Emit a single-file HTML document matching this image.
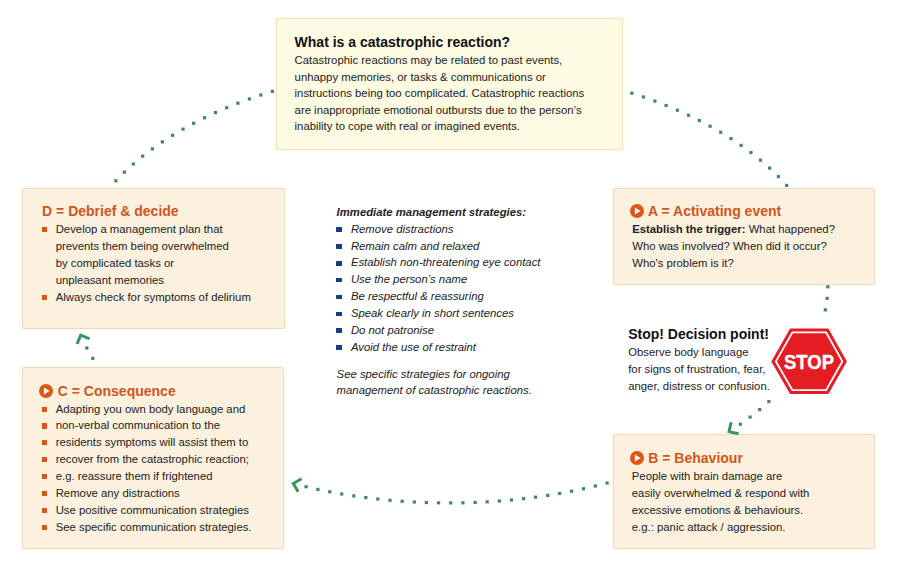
<!DOCTYPE html>
<html><head><meta charset="utf-8"><style>
html,body{margin:0;padding:0;background:#fff;}
body{width:898px;height:574px;position:relative;overflow:hidden;font-family:"Liberation Sans",sans-serif;}
.box{position:absolute;box-sizing:border-box;border:1px solid;border-radius:2px;box-shadow:0 0 0 2px rgba(255,251,228,0.6);}
.t{position:absolute;white-space:nowrap;}
.b{font-weight:bold;}
.bul{position:absolute;}
.ov{position:absolute;left:0;top:0;}
</style></head><body>
<div class="box" style="left:276px;top:18px;width:346.5px;height:131.5px;background:#fdfbe2;border-color:#ebe3c8"></div><div class="box" style="left:22.3px;top:188px;width:262.4px;height:140.5px;background:#fcf1de;border-color:#e9dcc6"></div><div class="box" style="left:613.3px;top:187.5px;width:262.0px;height:97.80000000000001px;background:#fcf1de;border-color:#e9dcc6"></div><div class="box" style="left:22.4px;top:367.3px;width:262.1px;height:181.7px;background:#fcf1de;border-color:#e9dcc6"></div><div class="box" style="left:613.4px;top:434.4px;width:262.0px;height:114.60000000000002px;background:#fcf1de;border-color:#e9dcc6"></div><div class="t b" style="left:294.6px;top:33.05px;font-size:14px;line-height:18px;color:#111">What is a catastrophic reaction?</div><div class="t" style="left:294.6px;top:51.97px;font-size:11.33px;line-height:16.6px;color:#222222;">Catastrophic reactions may be related to past events,<br>unhappy memories, or tasks &amp; communications or<br>instructions being too complicated. Catastrophic reactions<br>are inappropriate emotional outbursts due to the person’s<br>inability to cope with real or imagined events.</div><div class="t b" style="left:42.1px;top:201.85px;font-size:14px;line-height:18px;color:#d0561e">D = Debrief &amp; decide</div><div class="t" style="left:55.7px;top:220.75px;font-size:11.33px;line-height:17.05px;color:#222222;">Develop a management plan that<br>prevents them being overwhelmed<br>by complicated tasks or<br>unpleasant memories<br>Always check for symptoms of delirium</div><div class="bul" style="left:41.9px;top:226.80px;width:5.1px;height:5.2px;background:#d6571c"></div><div class="bul" style="left:41.9px;top:295.00px;width:5.1px;height:5.2px;background:#d6571c"></div><div class="t" style="left:336.6px;top:203.65px;font-size:11.33px;line-height:16.85px;color:#222;font-weight:bold;font-style:italic">Immediate management strategies:</div><div class="t" style="left:350.9px;top:220.75px;font-size:11.33px;line-height:16.85px;color:#222;font-style:italic">Remove distractions<br>Remain calm and relaxed<br>Establish non-threatening eye contact<br>Use the person’s name<br>Be respectful &amp; reassuring<br>Speak clearly in short sentences<br>Do not patronise<br>Avoid the use of restraint</div><div class="bul" style="left:336.2px;top:227.30px;width:5.9px;height:4.5px;background:#173f85"></div><div class="bul" style="left:336.2px;top:244.15px;width:5.9px;height:4.5px;background:#173f85"></div><div class="bul" style="left:336.2px;top:261.00px;width:5.9px;height:4.5px;background:#173f85"></div><div class="bul" style="left:336.2px;top:277.85px;width:5.9px;height:4.5px;background:#173f85"></div><div class="bul" style="left:336.2px;top:294.70px;width:5.9px;height:4.5px;background:#173f85"></div><div class="bul" style="left:336.2px;top:311.55px;width:5.9px;height:4.5px;background:#173f85"></div><div class="bul" style="left:336.2px;top:328.40px;width:5.9px;height:4.5px;background:#173f85"></div><div class="bul" style="left:336.2px;top:345.25px;width:5.9px;height:4.5px;background:#173f85"></div><div class="t" style="left:336.6px;top:365.77px;font-size:11.33px;line-height:16.6px;color:#222;font-style:italic">See specific strategies for ongoing<br>management of catastrophic reactions.</div><svg class="ov" style="left:628.8px;top:203px" width="16" height="16" viewBox="628.8 203 16 16"><circle cx="636.8" cy="211" r="7" fill="#de5716"/><polygon points="634.70,207.40 634.70,214.60 640.40,211.00" fill="#fff"/></svg><div class="t b" style="left:648px;top:201.85px;font-size:14px;line-height:18px;color:#d0561e">A = Activating event</div><div class="t" style="left:632.2px;top:221.47px;font-size:11.33px;line-height:16.6px;color:#222222;"><b>Establish the trigger:</b> What happened?<br>Who was involved? When did it occur?<br>Who's problem is it?</div><div class="t b" style="left:628.2px;top:325.25px;font-size:14px;line-height:18px;color:#111">Stop! Decision point!</div><div class="t" style="left:628.2px;top:344.10px;font-size:11.33px;line-height:16.95px;color:#222;">Observe body language<br>for signs of frustration, fear,<br>anger, distress or confusion.</div><svg class="ov" style="left:629px;top:450.3px" width="16" height="16" viewBox="629 450.3 16 16"><circle cx="637" cy="458.3" r="7" fill="#de5716"/><polygon points="634.90,454.70 634.90,461.90 640.60,458.30" fill="#fff"/></svg><div class="t b" style="left:648.3px;top:448.85px;font-size:14px;line-height:18px;color:#d0561e">B = Behaviour</div><div class="t" style="left:631.8px;top:467.77px;font-size:11.33px;line-height:17.0px;color:#222222;">People with brain damage are<br>easily overwhelmed &amp; respond with<br>excessive emotions &amp; behaviours.<br>e.g.: panic attack / aggression.</div><svg class="ov" style="left:38px;top:382.9px" width="16" height="16" viewBox="38 382.9 16 16"><circle cx="46" cy="390.9" r="7" fill="#de5716"/><polygon points="43.90,387.30 43.90,394.50 49.60,390.90" fill="#fff"/></svg><div class="t b" style="left:57.8px;top:381.95px;font-size:14px;line-height:18px;color:#d0561e">C = Consequence</div><div class="t" style="left:55.7px;top:400.54px;font-size:11.33px;line-height:16.87px;color:#222222;">Adapting you own body language and<br>non-verbal communication to the<br>residents symptoms will assist them to<br>recover from the catastrophic reaction;<br>e.g. reassure them if frightened<br>Remove any distractions<br>Use positive communication strategies<br>See specific communication strategies.</div><div class="bul" style="left:41.9px;top:406.50px;width:5.1px;height:5.2px;background:#d6571c"></div><div class="bul" style="left:41.9px;top:423.37px;width:5.1px;height:5.2px;background:#d6571c"></div><div class="bul" style="left:41.9px;top:440.24px;width:5.1px;height:5.2px;background:#d6571c"></div><div class="bul" style="left:41.9px;top:457.11px;width:5.1px;height:5.2px;background:#d6571c"></div><div class="bul" style="left:41.9px;top:473.98px;width:5.1px;height:5.2px;background:#d6571c"></div><div class="bul" style="left:41.9px;top:490.85px;width:5.1px;height:5.2px;background:#d6571c"></div><div class="bul" style="left:41.9px;top:507.72px;width:5.1px;height:5.2px;background:#d6571c"></div><div class="bul" style="left:41.9px;top:524.59px;width:5.1px;height:5.2px;background:#d6571c"></div>
<svg class="ov" width="898" height="574" viewBox="0 0 898 574">
<g fill="#43875e"><rect x="114.26" y="179.19" width="3.2" height="3.2"/><rect x="122.78" y="170.55" width="3.2" height="3.2"/><rect x="131.73" y="162.37" width="3.2" height="3.2"/><rect x="141.10" y="154.58" width="3.2" height="3.2"/><rect x="150.76" y="147.23" width="3.2" height="3.2"/><rect x="160.74" y="140.27" width="3.2" height="3.2"/><rect x="170.98" y="133.70" width="3.2" height="3.2"/><rect x="181.43" y="127.50" width="3.2" height="3.2"/><rect x="192.05" y="121.68" width="3.2" height="3.2"/><rect x="202.96" y="116.15" width="3.2" height="3.2"/><rect x="213.89" y="111.01" width="3.2" height="3.2"/><rect x="225.05" y="106.16" width="3.2" height="3.2"/><rect x="236.32" y="101.61" width="3.2" height="3.2"/><rect x="247.78" y="97.34" width="3.2" height="3.2"/><rect x="259.21" y="93.41" width="3.2" height="3.2"/><rect x="270.77" y="89.74" width="3.2" height="3.2"/><rect x="630.29" y="91.59" width="3.2" height="3.2"/><rect x="641.76" y="95.38" width="3.2" height="3.2"/><rect x="653.27" y="99.51" width="3.2" height="3.2"/><rect x="664.52" y="103.88" width="3.2" height="3.2"/><rect x="675.76" y="108.59" width="3.2" height="3.2"/><rect x="686.88" y="113.62" width="3.2" height="3.2"/><rect x="697.74" y="118.93" width="3.2" height="3.2"/><rect x="708.49" y="124.60" width="3.2" height="3.2"/><rect x="719.10" y="130.65" width="3.2" height="3.2"/><rect x="729.43" y="137.03" width="3.2" height="3.2"/><rect x="739.53" y="143.80" width="3.2" height="3.2"/><rect x="749.35" y="150.95" width="3.2" height="3.2"/><rect x="758.90" y="158.55" width="3.2" height="3.2"/><rect x="768.05" y="166.54" width="3.2" height="3.2"/><rect x="776.81" y="174.98" width="3.2" height="3.2"/><rect x="785.06" y="183.82" width="3.2" height="3.2"/><rect x="826.25" y="285.19" width="3.2" height="3.2"/><rect x="825.50" y="296.79" width="3.2" height="3.2"/><rect x="823.71" y="308.26" width="3.2" height="3.2"/><rect x="767.24" y="400.01" width="3.2" height="3.2"/><rect x="758.07" y="407.95" width="3.2" height="3.2"/><rect x="748.53" y="415.48" width="3.2" height="3.2"/><rect x="738.70" y="422.59" width="3.2" height="3.2"/><rect x="605.51" y="481.43" width="3.2" height="3.2"/><rect x="593.73" y="484.41" width="3.2" height="3.2"/><rect x="581.94" y="487.12" width="3.2" height="3.2"/><rect x="569.99" y="489.60" width="3.2" height="3.2"/><rect x="558.05" y="491.83" width="3.2" height="3.2"/><rect x="546.14" y="493.80" width="3.2" height="3.2"/><rect x="533.97" y="495.57" width="3.2" height="3.2"/><rect x="522.02" y="497.07" width="3.2" height="3.2"/><rect x="509.83" y="498.36" width="3.2" height="3.2"/><rect x="497.73" y="499.41" width="3.2" height="3.2"/><rect x="485.57" y="500.23" width="3.2" height="3.2"/><rect x="473.53" y="500.82" width="3.2" height="3.2"/><rect x="461.32" y="501.19" width="3.2" height="3.2"/><rect x="449.08" y="501.33" width="3.2" height="3.2"/><rect x="437.00" y="501.25" width="3.2" height="3.2"/><rect x="424.78" y="500.94" width="3.2" height="3.2"/><rect x="412.73" y="500.41" width="3.2" height="3.2"/><rect x="400.56" y="499.64" width="3.2" height="3.2"/><rect x="388.45" y="498.66" width="3.2" height="3.2"/><rect x="376.24" y="497.42" width="3.2" height="3.2"/><rect x="364.26" y="495.98" width="3.2" height="3.2"/><rect x="352.22" y="494.30" width="3.2" height="3.2"/><rect x="340.13" y="492.36" width="3.2" height="3.2"/><rect x="328.16" y="490.19" width="3.2" height="3.2"/><rect x="316.32" y="487.80" width="3.2" height="3.2"/><rect x="304.48" y="485.15" width="3.2" height="3.2"/><rect x="91.14" y="356.75" width="3.2" height="3.2"/><rect x="85.22" y="346.44" width="3.2" height="3.2"/></g>
<g fill="none" stroke="#3a925f" stroke-width="3" stroke-linecap="butt" stroke-linejoin="miter"><polyline points="298.17,491.86 293.31,483.58 301.59,478.72"/><polyline points="738.41,433.76 729.04,431.65 731.15,422.28"/><polyline points="77.07,343.99 80.75,335.13 89.62,338.81"/></g>
</svg>
<svg class="ov" width="898" height="574" viewBox="0 0 898 574">
<polygon points="790.1,328.4 828.4,328.4 846.9,361.4 828.4,394.1 790.1,394.1 771.3,361.4" fill="#e41d25"/>
<polygon points="792.4,332.4 826.1,332.4 842.3,361.4 826.1,390.1 792.4,390.1 775.9,361.4" fill="none" stroke="#fff" stroke-width="1.9"/>
<text x="784" y="368.6" textLength="50" lengthAdjust="spacingAndGlyphs" font-family="Liberation Sans" font-weight="bold" font-size="19.6" fill="#fff" stroke="#fff" stroke-width="0.35">STOP</text>
</svg>
</body></html>
